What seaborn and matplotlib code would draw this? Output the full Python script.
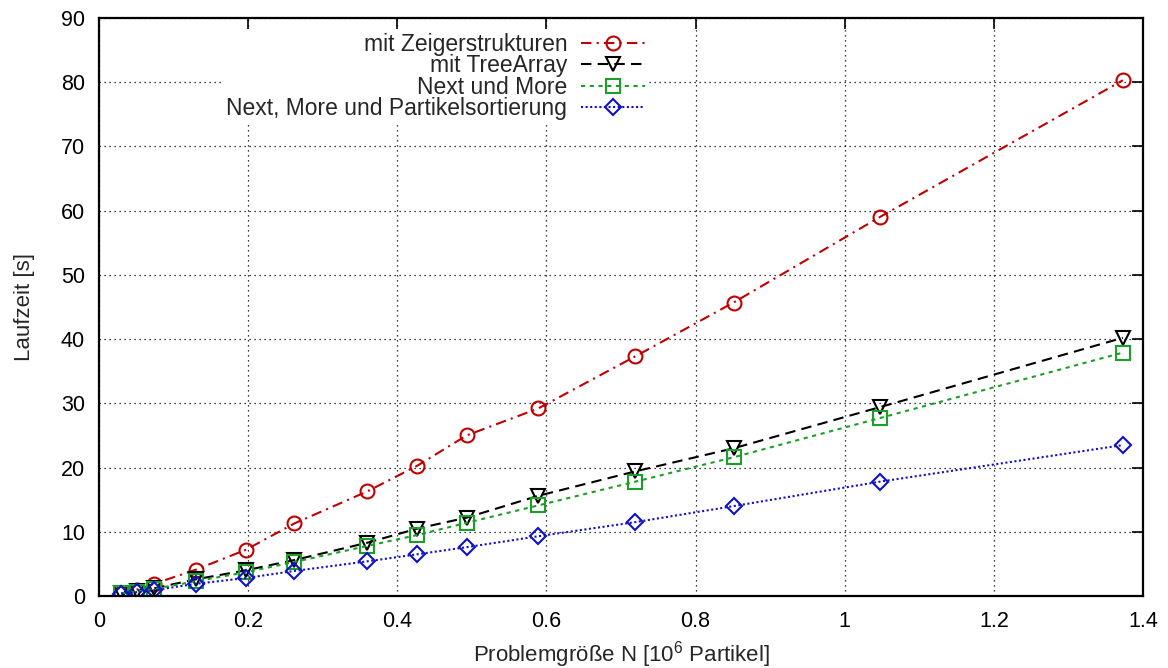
import matplotlib
matplotlib.use("Agg")
import matplotlib.pyplot as plt
import seaborn as sns
import numpy as np
from matplotlib.ticker import FormatStrFormatter

sns.set_style("white")
plt.rcParams['font.family'] = ['Liberation Sans', 'DejaVu Sans']
plt.rcParams['mathtext.fontset'] = 'custom'
plt.rcParams['mathtext.rm'] = 'Liberation Sans'
plt.rcParams['mathtext.it'] = 'Liberation Sans:italic'

# Data
n_particles = [0.030, 0.051, 0.074, 0.130, 0.197, 0.262, 0.360, 0.427, 0.493, 0.589, 0.719, 0.851, 1.047, 1.373]
zeiger = [0.4, 1.0, 1.9, 4.1, 7.2, 11.3, 16.3, 20.3, 25.0, 29.2, 37.3, 45.7, 59.0, 80.3]
treearray = [0.4, 0.8, 1.2, 2.6, 4.0, 5.6, 8.3, 10.5, 12.2, 15.6, 19.4, 23.0, 29.4, 40.2]
next_more = [0.4, 0.7, 1.1, 2.3, 3.7, 5.3, 7.8, 9.5, 11.4, 14.1, 17.8, 21.6, 27.7, 37.9]
next_more_sort = [0.3, 0.6, 0.9, 1.9, 2.8, 3.9, 5.4, 6.5, 7.6, 9.3, 11.5, 14.0, 17.8, 23.5]
labels = ["mit Zeigerstrukturen", "mit TreeArray", "Next und More",
          "Next, More und Partikelsortierung"]

x_ticks = [0, 0.2, 0.4, 0.6, 0.8, 1.0, 1.2, 1.4]
y_ticks = [0, 10, 20, 30, 40, 50, 60, 70, 80, 90]

fig = plt.figure(figsize=(11.68, 6.68), dpi=100)
ax = fig.add_axes([99/1168, 72/668, (1143-99)/1168, (596-18)/668])

styles = [
    dict(color="#c00000", marker="o", dashes=(5, 2.5, 1, 2.5), ms=10),
    dict(color="#000000", marker="v", dashes=(5, 3), ms=10),
    dict(color="#1aa028", marker="s", dashes=(2, 2.2), ms=9.5),
    dict(color="#1010c8", marker="D", dashes=(1, 1.2), ms=8),
]
series = [zeiger, treearray, next_more, next_more_sort]
for ys, lab, st in zip(series, labels, styles):
    sns.lineplot(x=n_particles, y=ys, ax=ax, label=lab, color=st["color"],
                 marker=st["marker"], markersize=st["ms"], markerfacecolor="none",
                 markeredgecolor=st["color"], markeredgewidth=1.5,
                 linewidth=1.5, sort=False, estimator=None)
    ax.lines[-1].set_dashes(st["dashes"])

ax.set_xlim(0, 1.4)
ax.set_ylim(0, 90)
ax.set_xticks(x_ticks)
ax.set_yticks(y_ticks)
ax.xaxis.set_major_formatter(FormatStrFormatter('%g'))
ax.tick_params(axis='both', which='major', direction='in', length=8, width=1.2,
               top=True, right=True, labelsize=15.5, colors='black')
ax.tick_params(axis='x', pad=11)
ax.tick_params(axis='y', pad=10)
ax.grid(True, which='major', color='black', linestyle=(0, (1, 3)), linewidth=0.9)
ax.set_axisbelow(True)
for sp in ax.spines.values():
    sp.set_visible(True)
    sp.set_color('black')
    sp.set_linewidth(1.6)

ax.set_xlabel("Problemgröße N [10$^6$ Partikel]", fontsize=16, labelpad=5)
ax.set_ylabel("Laufzeit [s]", fontsize=16, labelpad=19)

leg = ax.legend(loc='upper right', bbox_to_anchor=(660/1168, 1 - 18/668),
                bbox_transform=fig.transFigure, markerfirst=False, frameon=True,
                fancybox=False, edgecolor='none', facecolor='white', framealpha=1,
                fontsize=16.5, handlelength=2.8, handletextpad=0.6, labelspacing=-0.07,
                borderpad=0.15)

fig.savefig("out.png", dpi=100)
